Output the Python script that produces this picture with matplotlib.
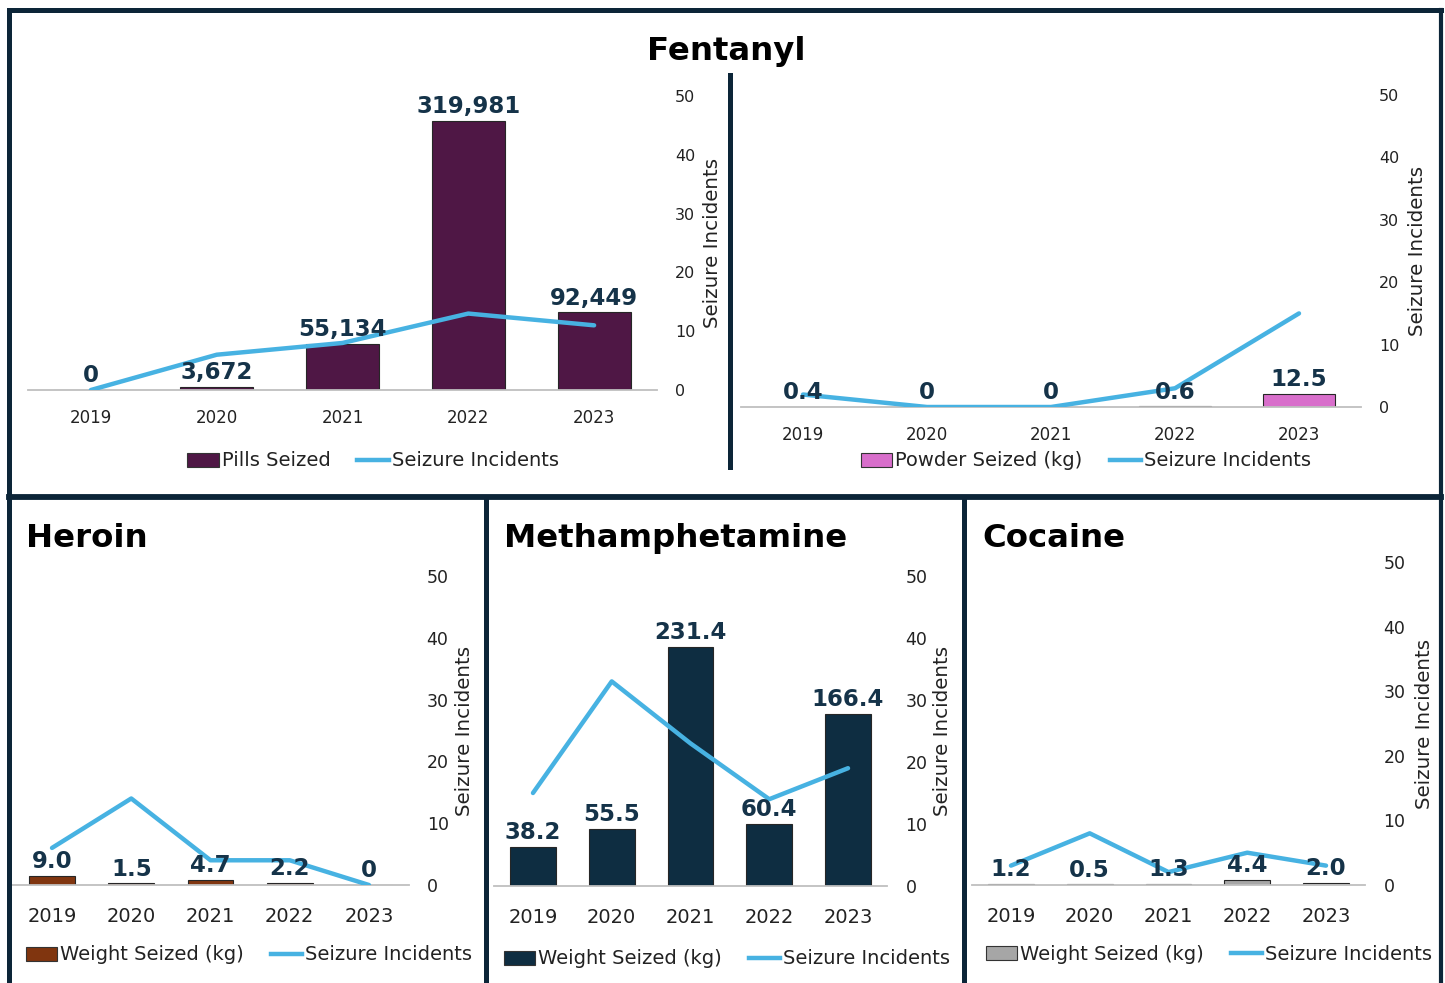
import numpy as np
import matplotlib
matplotlib.use("Agg")
import matplotlib.pyplot as plt
from matplotlib.patches import Patch
from matplotlib.lines import Line2D

# data
years = ["2019", "2020", "2021", "2022", "2023"]

pills_seized = [0, 3672, 55134, 319981, 92449]
pills_incidents = [0, 6, 8, 13, 11]

powder_seized = [0.4, 0, 0, 0.6, 12.5]
powder_incidents = [2, 0, 0, 3, 15]

heroin_weight = [9.0, 1.5, 4.7, 2.2, 0]
heroin_incidents = [6, 14, 4, 4, 0]

meth_weight = [38.2, 55.5, 231.4, 60.4, 166.4]
meth_incidents = [15, 33, 23, 14, 19]

cocaine_weight = [1.2, 0.5, 1.3, 4.4, 2.0]
cocaine_incidents = [3, 8, 2, 5, 3]

W, H = 1445, 983
LINE_COLOR = "#47B2E2"
LABEL_COLOR = "#153349"
FRAME_COLOR = "#0C2538"
TEXT_COLOR = "#222222"

fig = plt.figure(figsize=(W / 100, H / 100), dpi=100)
fig.patch.set_facecolor("white")


def fmt(v, comma=False):
    if comma:
        return f"{v:,.0f}"
    return "0" if v == 0 else f"{v:.1f}"


def panel(left, right, base_y, top_y, values, incidents, labels, color, ymax,
          label_x, small=False):
    ax = fig.add_axes([left / W, 1 - base_y / H, (right - left) / W, (base_y - top_y) / H])
    ax2 = ax.twinx()
    x = np.arange(len(years))

    ax.bar(x, values, width=0.58, color=color, edgecolor="#262626", linewidth=0.8)
    ax.set_xlim(-0.5, len(years) - 0.5)
    ax.set_ylim(0, ymax)
    ax.set_yticks([])
    ax.set_xticks(x, years)
    for s in ["top", "left", "right"]:
        ax.spines[s].set_visible(False)
    ax.spines["bottom"].set_color("#BFBFBF")
    ax.spines["bottom"].set_linewidth(1.3)
    ax.tick_params(axis="x", length=0, labelsize=12 if small else 14,
                   pad=14 if small else 15.8, colors=TEXT_COLOR)

    ax2.plot(x, incidents, color=LINE_COLOR, linewidth=3.2, solid_capstyle="round",
             solid_joinstyle="round")
    ax2.set_ylim(0, 50)
    ax2.set_yticks(range(0, 51, 10))
    for s in ax2.spines.values():
        s.set_visible(False)
    ax2.tick_params(axis="y", length=0, labelsize=11.5 if small else 12.5, pad=13,
                    colors=TEXT_COLOR)
    ax2.set_ylabel("Seizure Incidents", fontsize=14.3, color=TEXT_COLOR)
    ax2.yaxis.set_label_coords(label_x / W, 1 - (base_y + top_y) / 2 / H,
                               transform=fig.transFigure)

    # data labels above bars, drawn on the twin so they sit over the line
    for i, (v, t) in enumerate(zip(values, labels)):
        ax2.annotate(t, xy=(i, v), xycoords=ax.transData, xytext=(0, 2),
                     textcoords="offset points", ha="center", va="bottom",
                     fontsize=16.5, fontweight="bold", color=LABEL_COLOR)
    return ax


def legend(cx, cy, color, name):
    handles = [Patch(facecolor=color, edgecolor="#333333", linewidth=0.8),
               Line2D([], [], color=LINE_COLOR, linewidth=3.2)]
    fig.legend(handles, [name, "Seizure Incidents"], loc="center",
               bbox_to_anchor=(cx / W, 1 - cy / H), ncol=2, frameon=False,
               fontsize=14, handlelength=1.6, handleheight=0.7,
               handletextpad=0.15, columnspacing=1.4, borderpad=0,
               borderaxespad=0, labelcolor=TEXT_COLOR)


# Fentanyl - pills
panel(28, 657, 390, 96, pills_seized, pills_incidents,
      [fmt(v, comma=True) for v in pills_seized], "#4F1745", 350000, 703, small=True)
legend(373, 461, "#4F1745", "Pills Seized")

# Fentanyl - powder
panel(741, 1361, 407, 95, powder_seized, powder_incidents,
      [fmt(v) for v in powder_seized], "#D86ECB", 300, 1408, small=True)
legend(1086, 461, "#D86ECB", "Powder Seized (kg)")

# Heroin
panel(12.4, 408.6, 885, 576, heroin_weight, heroin_incidents,
      [fmt(v) for v in heroin_weight], "#80350F", 300, 455)
legend(249, 955, "#80350F", "Weight Seized (kg)")

# Methamphetamine
panel(493.6, 887.4, 886, 576, meth_weight, meth_incidents,
      [fmt(v) for v in meth_weight], "#0E2D41", 300, 933)
legend(727, 959, "#0E2D41", "Weight Seized (kg)")

# Cocaine
panel(971.6, 1365.4, 885, 562, cocaine_weight, cocaine_incidents,
      [fmt(v) for v in cocaine_weight], "#A6A6A6", 300, 1415)
legend(1209, 954, "#A6A6A6", "Weight Seized (kg)")

# titles
fig.text(647 / W, 1 - 60 / H, "Fentanyl", fontsize=23.3, fontweight="bold",
         ha="left", va="baseline", color="black")
fig.text(26 / W, 1 - 547 / H, "Heroin", fontsize=23.3, fontweight="bold",
         ha="left", va="baseline", color="black")
fig.text(504 / W, 1 - 547 / H, "Methamphetamine", fontsize=23.3, fontweight="bold",
         ha="left", va="baseline", color="black")
fig.text(982 / W, 1 - 547 / H, "Cocaine", fontsize=23.3, fontweight="bold",
         ha="left", va="baseline", color="black")


# panel frames
def frame(x0, y0, x1, y1, lw=3.6):
    fig.add_artist(Line2D([x0 / W, x1 / W], [1 - y0 / H, 1 - y1 / H],
                          transform=fig.transFigure, color=FRAME_COLOR,
                          linewidth=lw, solid_capstyle="projecting"))


frame(8.5, 9.5, 1441, 9.5)
frame(8.5, 9.5, 8.5, 990)
frame(1441, 9.5, 1441, 990, lw=3.0)
frame(8.5, 497, 1441, 497, lw=4.2)
frame(486, 497, 486, 990)
frame(964, 497, 964, 990)
frame(729.7, 75, 729.7, 467)

fig.savefig("out.png", dpi=100)
